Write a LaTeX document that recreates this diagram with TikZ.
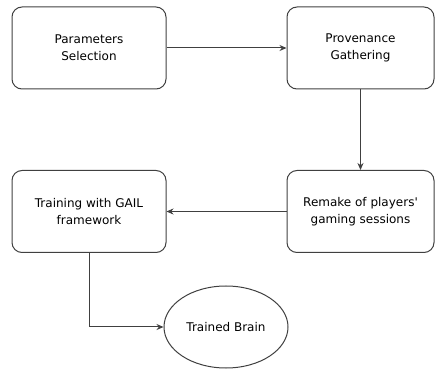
\documentclass[tikz,border=0pt]{standalone}
\usepackage{fontspec}
\setmainfont{DejaVu Sans}
\usetikzlibrary{positioning, arrows.meta, shapes.geometric}

\begin{document}
\begin{tikzpicture}[x=1pt, y=1pt, node distance=163.5pt and 271.5pt, on grid,
        >={Stealth[length=7pt, width=6pt]},
        stepbox/.style={rectangle, rounded corners=10pt, draw=black!75, line width=1pt,
            minimum width=154pt, minimum height=82pt, align=center, inner sep=1pt,
            font=\fontsize{12}{17}\selectfont},
        brainnode/.style={ellipse, draw=black!75, line width=1pt,
            minimum width=124pt, minimum height=82pt,
            font=\fontsize{12}{17}\selectfont},
        flow/.style={->, draw=black!75, line width=1pt}]

        \useasboundingbox (0,0) rectangle (437,370);

        % Nodes
        \node[stepbox] (params) at (89,322) {Parameters\\Selection};
        \node[stepbox, minimum width=147pt] (prov) [right=of params] {Provenance\\Gathering};
        \node[stepbox, minimum width=147pt] (remake) [below=of prov] {Remake of players\textquotesingle\\gaming sessions};
        \node[stepbox] (gail) [below=of params] {Training with GAIL\\framework};
        \node[brainnode] (brain) at (226,43) {Trained Brain};

        % Connectors
        \draw[flow] (params) -- (prov);
        \draw[flow] (prov) -- (remake);
        \draw[flow] (remake) -- (gail);
        \draw[flow] (gail.south) |- (brain.west);
    \end{tikzpicture}
\end{document}
